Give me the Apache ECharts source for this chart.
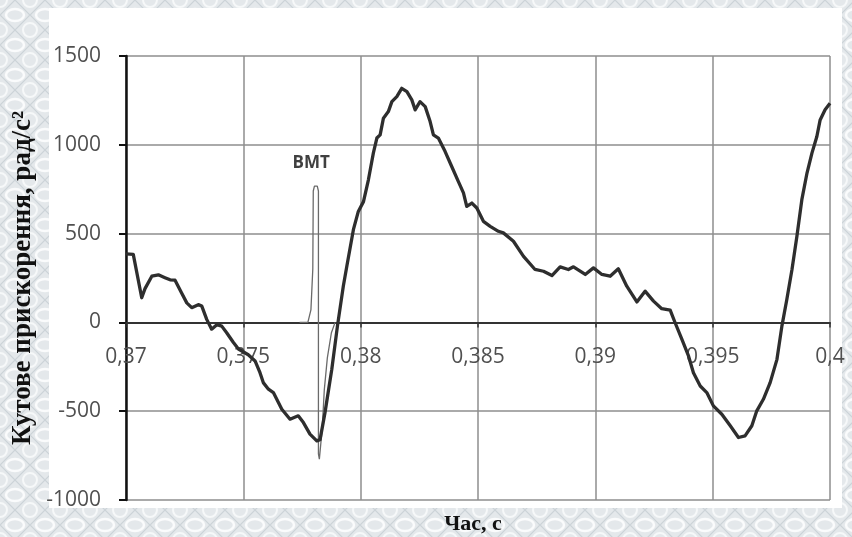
<!DOCTYPE html>
<html>
<head>
<meta charset="utf-8">
<script src="https://cdn.jsdelivr.net/npm/echarts@6/dist/echarts.min.js"></script>
<style>
html,body{margin:0;padding:0;background:#e3e7ea;}
#chart{width:852px;height:537px;}
</style>
</head>
<body>
<div id="chart"></div>
<script>
// ---- Data ----
const times = [0.37000,0.37031,0.37067,0.37081,0.37110,0.37138,0.37166,0.37188,0.37209,0.37237,0.37259,0.37280,0.37308,0.37323,0.37344,0.37365,0.37387,0.37408,0.37429,0.37457,0.37479,0.37521,0.37550,0.37571,0.37585,0.37607,0.37628,0.37664,0.37699,0.37734,0.37756,0.37784,0.37813,0.37827,0.37848,0.37877,0.37901,0.37926,0.37941,0.37969,0.37990,0.38012,0.38033,0.38054,0.38069,0.38083,0.38097,0.38118,0.38133,0.38154,0.38175,0.38197,0.38218,0.38232,0.38253,0.38275,0.38296,0.38310,0.38331,0.38360,0.38388,0.38416,0.38438,0.38452,0.38474,0.38495,0.38523,0.38552,0.38587,0.38608,0.38651,0.38694,0.38743,0.38779,0.38815,0.38850,0.38885,0.38907,0.38957,0.38992,0.39028,0.39063,0.39098,0.39134,0.39177,0.39212,0.39248,0.39283,0.39319,0.39340,0.39369,0.39397,0.39418,0.39447,0.39475,0.39503,0.39539,0.39575,0.39610,0.39638,0.39667,0.39688,0.39716,0.39745,0.39774,0.39795,0.39816,0.39838,0.39859,0.39880,0.39902,0.39923,0.39944,0.39958,0.39979,0.40000];
const accel = [386,383,139,190,260,268,252,240,238,165,110,83,100,92,17,-38,-13,-21,-58,-112,-150,-182,-217,-283,-339,-376,-395,-489,-545,-526,-564,-629,-667,-660,-508,-264,-21,204,316,522,625,680,803,953,1038,1056,1150,1187,1243,1271,1318,1299,1253,1197,1243,1215,1131,1056,1038,962,878,794,729,653,672,644,569,541,513,504,457,372,298,288,264,313,298,313,270,307,270,260,302,204,115,176,120,77,69,-2,-96,-189,-283,-358,-395,-470,-517,-582,-648,-639,-582,-498,-433,-339,-208,-21,129,298,485,691,841,953,1047,1140,1197,1234];

const bmtTimes = [0.37740,0.37775,0.37788,0.37796,0.37798,0.37803,0.37815,0.37820,0.37820,0.37824,0.37832,0.37836,0.37845,0.37858,0.37875,0.37891];
const bmtAccel = [0,0,70,300,740,767,767,740,-740,-770,-770,-600,-380,-200,-60,0];
const bmtLabel = {text: 'ВМТ', time: 0.37789, value: 899};

const xMin = 0.37, xMax = 0.40, xStep = 0.005;
const yMin = -1000, yMax = 1500, yStep = 500;
const xTitle = 'Час, с';
const yTitle = 'Кутове прискорення, рад/с²';

// ---- Background texture ----
function makePattern(){
  const c = document.createElement('canvas');
  c.width = 30; c.height = 30;
  const g = c.getContext('2d');
  g.fillStyle = '#e4e8eb';
  g.fillRect(0,0,30,30);
  g.strokeStyle = '#fafbfc';
  g.lineWidth = 2.5;
  g.beginPath(); g.ellipse(15,15,9,6,0,0,Math.PI*2); g.stroke();
  g.strokeStyle = '#ccd3d8';
  g.lineWidth = 1.2;
  g.beginPath();
  g.moveTo(0,15); g.lineTo(15,0); g.lineTo(30,15); g.lineTo(15,30); g.closePath();
  g.stroke();
  g.strokeStyle = '#f6f8f9';
  g.lineWidth = 2;
  [[0,0],[30,0],[0,30],[30,30]].forEach(p=>{g.beginPath(); g.arc(p[0],p[1],7,0,Math.PI*2); g.stroke();});
  return c;
}

const mainData = times.map((t,i)=>[t, accel[i]]);
const bmtData = bmtTimes.map((t,i)=>[t, bmtAccel[i]]);

const labelColor = '#505050';
const gridColor = '#8e8e8e';
const gridTop = 56, gridBottom = 37, chartH = 537;
const plotH = chartH - gridTop - gridBottom;
// move x axis (line, ticks, labels) up to the value 0
const xAxisOffset = -plotH * (0 - yMin) / (yMax - yMin);

const chart = echarts.init(document.getElementById('chart'), null, {renderer:'canvas'});
chart.setOption({
  backgroundColor: {image: makePattern(), repeat: 'repeat'},
  animation: false,
  grid: {left: 126, right: 22, top: gridTop, bottom: gridBottom, containLabel: false},
  graphic: [
    {type:'rect', z:-10, silent:true, shape:{x:49, y:8, width:793, height:500}, style:{fill:'#ffffff'}},
    {type:'text', silent:true, x:23, y:278, rotation:Math.PI/2,
      style:{text:yTitle, font:'bold 27px "Liberation Serif"', fill:'#111', align:'center', verticalAlign:'middle'}},
    {type:'text', silent:true, x:473, y:524,
      style:{text:xTitle, font:'bold 22px "Liberation Serif"', fill:'#111', align:'center', verticalAlign:'middle'}}
  ],
  xAxis: {
    type:'value', min:xMin, max:xMax, interval:xStep, position:'bottom', offset:xAxisOffset,
    axisLine:{show:true, onZero:false, lineStyle:{color:'#333', width:2}},
    axisTick:{show:true, inside:false, length:5, lineStyle:{color:'#333', width:1.5}},
    axisLabel:{margin:24, color:labelColor, fontFamily:'Open Sans', fontSize:21,
      formatter: v => String(parseFloat(v.toFixed(3))).replace('.', ',')},
    splitLine:{show:true, lineStyle:{color:gridColor, width:1.5}}
  },
  yAxis: {
    type:'value', min:yMin, max:yMax, interval:yStep,
    axisLine:{show:true, onZero:false, lineStyle:{color:'#111', width:2.5}},
    axisTick:{show:true, inside:false, length:7, lineStyle:{color:'#111', width:2}},
    axisLabel:{margin:25, color:labelColor, fontFamily:'Open Sans', fontSize:21,
      formatter: v => String(Math.round(v))},
    splitLine:{show:true, lineStyle:{color:gridColor, width:1.5}}
  },
  series: [
    {type:'line', data:bmtData, symbol:'none', z:3,
      lineStyle:{color:'#6a6a6a', width:1.3},
      markPoint:{symbol:'rect', symbolSize:1, itemStyle:{color:'rgba(0,0,0,0)'},
        label:{show:true, position:'inside', formatter: bmtLabel.text, color:'#404040',
          fontFamily:'Open Sans', fontWeight:'bold', fontSize:17},
        data:[{coord:[bmtLabel.time, bmtLabel.value]}]}},
    {type:'line', data:mainData, symbol:'none', z:4,
      lineStyle:{color:'#2e2e2e', width:3.3, join:'round'}}
  ]
});
</script>
</body>
</html>
